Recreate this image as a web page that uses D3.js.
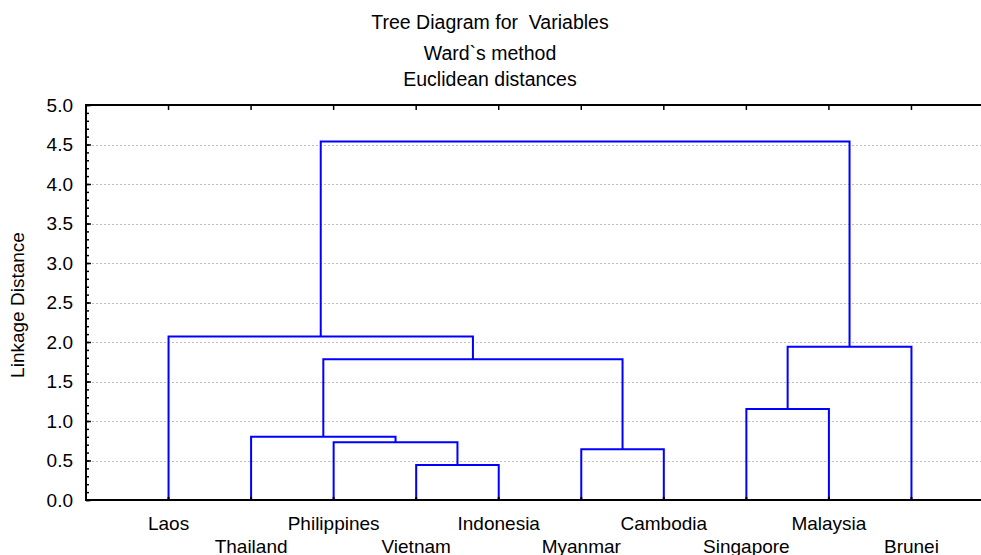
<!DOCTYPE html>
<html>
<head>
<meta charset="utf-8">
<script src="https://cdn.jsdelivr.net/npm/d3@7"></script>
<style>
  body { margin: 0; background: #fff; overflow: hidden; }
  text { font-family: "Liberation Sans", Arial, sans-serif; fill: #000; white-space: pre; }
</style>
</head>
<body>
<div id="chart"></div>
<script>
// Hojas del dendrograma, en el orden en que se dibujan
const leaves = ["Laos", "Thailand", "Philippines", "Vietnam", "Indonesia",
                "Myanmar", "Cambodia", "Singapore", "Malaysia", "Brunei"];

// Uniones: [nodo izquierdo, nodo derecho] (0-9 hojas, 10+ uniones previas)
const mergePairs = [[3, 4], [2, 10], [1, 11], [5, 6], [12, 13],
                    [0, 14], [7, 8], [16, 9], [15, 17]];
// Distancia de cada union
const mergeHeights = [0.444, 0.731, 0.802, 0.643, 1.783,
                      2.070, 1.153, 1.939, 4.537];

const yTicks = [0.0, 0.5, 1.0, 1.5, 2.0, 2.5, 3.0, 3.5, 4.0, 4.5, 5.0];
const titles = ["Tree Diagram for  Variables", "Ward`s method", "Euclidean distances"];

const width = 981, height = 555;
const plotLeft = 86, plotRight = 994, plotTop = 105, plotBottom = 500;

const svg = d3.select("#chart").append("svg")
  .attr("width", width)
  .attr("height", height);

const x = d3.scalePoint().domain(leaves).range([plotLeft, plotRight]).padding(1);
const y = d3.scaleLinear().domain([0, 5]).range([plotBottom, plotTop]);

// Titulos
svg.selectAll("text.title")
  .data(titles)
  .enter().append("text")
  .attr("class", "title")
  .attr("x", 490)
  .attr("y", (d, i) => [29, 60, 86][i])
  .attr("text-anchor", "middle")
  .attr("xml:space", "preserve")
  .style("font-size", "19.5px")
  .text(d => d);

// Lineas de rejilla punteadas
svg.append("g")
  .selectAll("line")
  .data(yTicks.filter(v => v > 0 && v < 5))
  .enter().append("line")
  .attr("x1", plotLeft + 2)
  .attr("x2", plotRight)
  .attr("y1", d => Math.round(y(d)) + 0.5)
  .attr("y2", d => Math.round(y(d)) + 0.5)
  .attr("stroke", "#bdbdbd")
  .attr("stroke-width", 1)
  .attr("stroke-dasharray", "2,2");

// Eje izquierdo: menores cada 0.1, mayores cada 0.5
svg.append("g")
  .attr("transform", `translate(${plotLeft},0)`)
  .call(d3.axisLeft(y).tickValues(d3.range(0, 51).map(i => i / 10)).tickSize(-3).tickFormat(""))
  .call(g => g.select(".domain").remove())
  .call(g => g.selectAll("line").attr("stroke-width", 1.5));

svg.append("g")
  .attr("transform", `translate(${plotLeft},0)`)
  .call(d3.axisLeft(y).tickValues(yTicks).tickSize(-5).tickPadding(13).tickFormat(d3.format(".1f")))
  .call(g => g.select(".domain").remove())
  .call(g => g.selectAll("line").attr("stroke-width", 1.5))
  .call(g => g.selectAll("text").style("font-size", "19px").attr("font-family", null));

// Marco: izquierda, arriba y abajo
svg.append("line").attr("x1", plotLeft).attr("x2", plotLeft).attr("y1", plotTop - 1).attr("y2", plotBottom + 1)
  .attr("stroke", "#000").attr("stroke-width", 2);
svg.append("line").attr("x1", plotLeft - 1).attr("x2", plotRight).attr("y1", plotTop).attr("y2", plotTop)
  .attr("stroke", "#000").attr("stroke-width", 2);
svg.append("line").attr("x1", plotLeft - 1).attr("x2", plotRight).attr("y1", plotBottom).attr("y2", plotBottom)
  .attr("stroke", "#000").attr("stroke-width", 2);

// Marcas del eje superior en cada hoja
svg.append("g")
  .selectAll("line")
  .data(leaves)
  .enter().append("line")
  .attr("x1", d => x(d)).attr("x2", d => x(d))
  .attr("y1", plotTop).attr("y2", plotTop + 5)
  .attr("stroke", "#000").attr("stroke-width", 1.5);

// Posiciones de los nodos
const nodeX = leaves.map(d => x(d));
const nodeH = leaves.map(() => 0);
mergePairs.forEach((p, i) => {
  nodeX.push((nodeX[p[0]] + nodeX[p[1]]) / 2);
  nodeH.push(mergeHeights[i]);
});

// Ramas del arbol
svg.append("g")
  .selectAll("path")
  .data(mergePairs)
  .enter().append("path")
  .attr("d", (p, i) => {
    const a = p[0], b = p[1], h = mergeHeights[i];
    return `M${nodeX[a]},${y(nodeH[a])}V${y(h)}H${nodeX[b]}V${y(nodeH[b])}`;
  })
  .attr("fill", "none")
  .attr("stroke", "#0000ff")
  .attr("stroke-width", 2);

// Marcas del eje inferior
svg.append("g")
  .selectAll("line")
  .data(leaves)
  .enter().append("line")
  .attr("x1", d => x(d)).attr("x2", d => x(d))
  .attr("y1", plotBottom).attr("y2", plotBottom - 3)
  .attr("stroke", "#000").attr("stroke-width", 2);

// Etiquetas de las hojas en dos filas
svg.append("g")
  .selectAll("text")
  .data(leaves)
  .enter().append("text")
  .attr("x", d => x(d))
  .attr("y", (d, i) => i % 2 === 0 ? 530 : 553)
  .attr("text-anchor", "middle")
  .style("font-size", "19px")
  .text(d => d);

// Titulo del eje Y
svg.append("text")
  .attr("transform", "translate(24,305) rotate(-90)")
  .attr("text-anchor", "middle")
  .style("font-size", "19px")
  .text("Linkage Distance");
</script>
</body>
</html>
